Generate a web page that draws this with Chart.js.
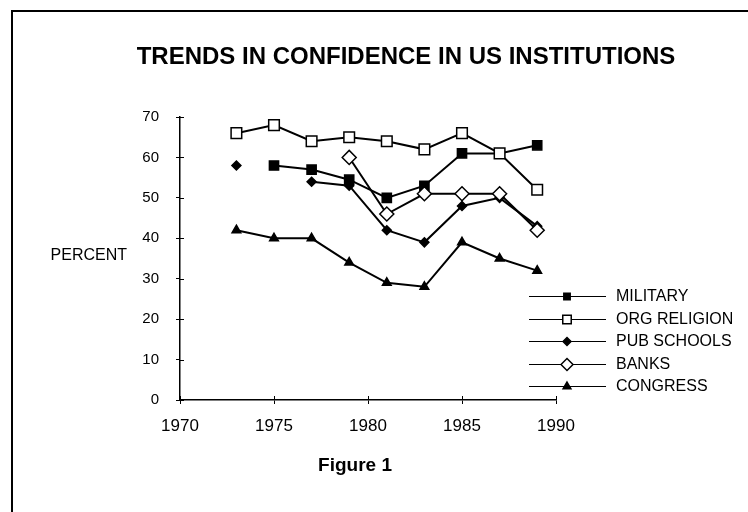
<!DOCTYPE html>
<html>
<head>
<meta charset="utf-8">
<script src="https://cdn.jsdelivr.net/npm/chart.js@4"></script>
<style>
  body { margin: 0; background: #fff; }
  canvas { display: block; }
</style>
</head>
<body>
<canvas id="chart" width="748" height="512"></canvas>
<script>
// values
const years = [1973, 1975, 1977, 1979, 1981, 1983, 1985, 1987, 1989];
const military = [null, 58, 57, 54.5, 50, 53, 61, 61, 63];
const orgReligion = [66, 68, 64, 65, 64, 62, 66, 61, 52];
const pubSchools = [58, null, 54, 53, 42, 39, 48, 50, 43];
const banks = [null, null, null, 60, 46, 51, 51, 51, 42];
const congress = [42, 40, 40, 34, 29, 28, 39, 35, 32];
const seriesNames = ['MILITARY', 'ORG RELIGION', 'PUB SCHOOLS', 'BANKS', 'CONGRESS'];
const xTicks = [1970, 1975, 1980, 1985, 1990];
const yTicks = [0, 10, 20, 30, 40, 50, 60, 70];

const FONT = '"Liberation Sans", Arial, sans-serif';

function pts(vals) {
  const out = [];
  years.forEach((y, i) => {
    if (vals[i] === null) {
      if (out.length) out.push({ x: y, y: null });
    } else {
      out.push({ x: y, y: vals[i] });
    }
  });
  return out;
}

function ds(label, vals, style, radius, fill, order, legendRadius) {
  return {
    label: label,
    data: pts(vals),
    borderColor: '#000',
    borderWidth: 2,
    pointStyle: style,
    pointRadius: radius,
    pointBackgroundColor: fill,
    pointBorderColor: '#000',
    pointBorderWidth: 1.5,
    spanGaps: false,
    tension: 0,
    order: order,
    legendRadius: legendRadius
  };
}

const datasets = [
  ds(seriesNames[0], military, 'rect', 6.5, '#000', 2, 4.5),
  ds(seriesNames[1], orgReligion, 'rect', 7.5, '#fff', 0, 6),
  ds(seriesNames[2], pubSchools, 'rectRot', 4.5, '#000', 3, 4),
  ds(seriesNames[3], banks, 'rectRot', 7, '#fff', 1, 6),
  ds(seriesNames[4], congress, 'triangle', 5, '#000', 4, 4.5)
];

const decor = {
  id: 'decor',
  beforeDraw(chart) {
    const c = chart.ctx;
    c.save();
    c.fillStyle = '#fff';
    c.fillRect(0, 0, chart.width, chart.height);
    c.restore();
  },
  afterDraw(chart) {
    const c = chart.ctx;
    const xs = chart.scales.x, ys = chart.scales.y;
    c.save();
    // frame (top and left only)
    c.strokeStyle = '#000';
    c.lineWidth = 2;
    c.beginPath();
    c.moveTo(748, 11);
    c.lineTo(12, 11);
    c.lineTo(12, 512);
    c.stroke();

    // inward part of tick marks
    c.lineWidth = 1;
    xTicks.forEach(t => {
      const px = Math.round(xs.getPixelForValue(t)) + 0.5;
      c.beginPath();
      c.moveTo(px, ys.bottom);
      c.lineTo(px, ys.bottom - 4);
      c.stroke();
    });
    yTicks.forEach(t => {
      const py = Math.round(ys.getPixelForValue(t)) + 0.5;
      c.beginPath();
      c.moveTo(xs.left, py);
      c.lineTo(xs.left + 4, py);
      c.stroke();
    });

    // texts
    c.fillStyle = '#000';
    c.textBaseline = 'middle';
    c.textAlign = 'center';
    c.font = 'bold 24px ' + FONT;
    c.fillText('TRENDS IN CONFIDENCE IN US INSTITUTIONS', 406, 57);
    c.font = 'bold 19px ' + FONT;
    c.fillText('Figure 1', 355, 466);
    c.textAlign = 'right';
    c.font = '16px ' + FONT;
    c.fillText('PERCENT', 127, 256);

    // legend
    const rowY = [296, 319, 341, 364, 386];
    chart.data.datasets.forEach((d, i) => {
      const y = rowY[i];
      c.strokeStyle = '#000';
      c.lineWidth = 1;
      c.beginPath();
      c.moveTo(529, y + 0.5);
      c.lineTo(606, y + 0.5);
      c.stroke();
      c.fillStyle = d.pointBackgroundColor;
      c.lineWidth = 1.5;
      Chart.helpers.drawPoint(c, { pointStyle: d.pointStyle, radius: d.legendRadius, rotation: 0, borderWidth: 1.5 }, 567, y + 0.5);
      c.fillStyle = '#000';
      c.textAlign = 'left';
      c.font = '16px ' + FONT;
      c.fillText(d.label, 616, y + 1);
    });
    c.restore();
  }
};

new Chart(document.getElementById('chart'), {
  type: 'line',
  data: { datasets: datasets },
  options: {
    responsive: false,
    animation: false,
    layout: { padding: { left: 120, right: 192, top: 117, bottom: 0 } },
    plugins: { legend: { display: false }, tooltip: { enabled: false } },
    scales: {
      x: {
        type: 'linear',
        min: 1970,
        max: 1990,
        afterFit(s) { s.height = 112; },
        afterBuildTicks(s) { s.ticks = xTicks.map(v => ({ value: v })); },
        ticks: { color: '#000', font: { family: FONT, size: 17 }, padding: 12, maxRotation: 0,
                 callback: v => String(v) },
        grid: { drawOnChartArea: false, tickLength: 4, color: '#000', tickWidth: 1 },
        border: { color: '#000', width: 1.5 }
      },
      y: {
        min: 0,
        max: 70,
        afterFit(s) { s.width = 60; },
        afterBuildTicks(s) { s.ticks = yTicks.map(v => ({ value: v })); },
        ticks: { color: '#000', font: { family: FONT, size: 15 }, padding: 17 },
        grid: { drawOnChartArea: false, tickLength: 4, color: '#000', tickWidth: 1 },
        border: { color: '#000', width: 1.5 }
      }
    }
  },
  plugins: [decor]
});
</script>
</body>
</html>
